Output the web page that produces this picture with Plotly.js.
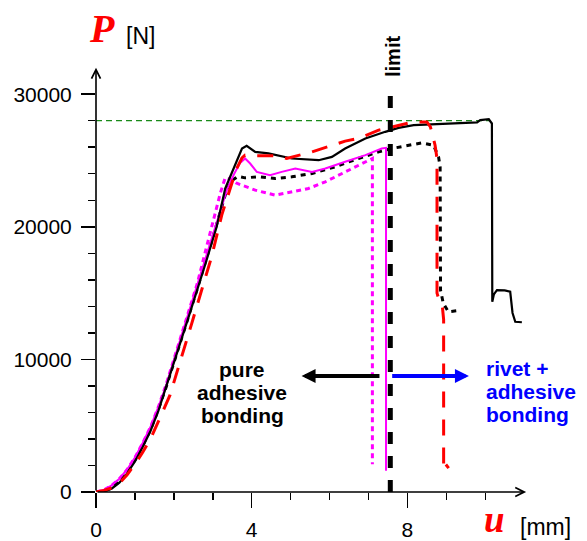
<!DOCTYPE html>
<html>
<head>
<meta charset="utf-8">
<script src="https://cdn.plot.ly/plotly-3.0.1.min.js"></script>
<style>html,body{margin:0;padding:0;background:#fff;}#chart{width:587px;height:541px;}</style>
</head>
<body>
<div id="chart"></div>
<script>
// ---- data (u in mm, P in N) ----
const blackSolidU = [0,0.2,0.4,0.6,0.8,1.0,1.2,1.4,1.6,1.8,2.0,2.4,2.8,3.1,3.32,3.57,3.75,3.87,4.0,4.09,4.43,5.03,5.72,6.06,6.4,6.92,7.43,7.77,8.16,9.02,9.79,9.87,10.09,10.17,10.18,10.22,10.3,10.5,10.64,10.7,10.77,10.94];
const blackSolidP = [0,50,250,700,1400,2300,3400,4600,6100,7900,9700,13400,17100,20000,22890,24700,25900,26100,25800,25650,25530,25150,25020,25270,25900,26660,27160,27460,27660,27790,27870,28040,28110,27790,14340,14900,15220,15200,15100,13500,12840,12800];

const redDashU = [0,0.2,0.4,0.6,0.8,1.0,1.2,1.4,1.6,1.9,2.46,2.72,2.97,3.23,3.44,3.6,3.75,3.83,4.0,4.6,4.9,5.55,6.4,6.74,7.26,7.64,8.16,8.5,8.59,8.71,8.76,8.76,8.82,8.9,8.93,8.93,8.98,9.06];
const redDashP = [0,120,300,650,1300,2100,3000,4000,5300,7300,12720,15230,17740,20880,22760,24300,25200,25400,25350,25350,25150,25650,26460,26660,27290,27540,27910,27910,27540,26150,25150,15000,14400,13900,13000,1700,2100,1800];

const blackDotU = [0,0.2,0.4,0.6,0.8,1.0,1.2,1.4,1.6,1.8,2.2,2.6,3.0,3.2,3.35,3.49,3.65,3.83,4.17,4.6,5.03,5.55,6.14,6.74,7.26,7.6,8.07,8.37,8.67,8.8,8.84,8.85,8.92,9.05,9.36];
const blackDotP = [0,60,300,800,1500,2400,3500,4700,6200,7900,11600,15300,19200,21200,22700,23500,23800,23690,23770,23640,23770,24020,24520,25150,25650,25900,26150,26330,26150,25270,24500,15225,14245,13590,13700];

const magSolidU = [0,0.2,0.4,0.6,0.8,1.0,1.2,1.4,1.6,1.8,2.24,2.8,3.1,3.36,3.55,3.7,3.83,3.96,4.13,4.47,4.77,5.12,5.55,5.89,6.4,6.92,7.34,7.45,7.45];
const magSolidP = [0,150,500,1000,1700,2600,3700,4900,6400,8000,12210,17400,20200,22760,24000,24800,25150,24770,24140,23890,24140,24400,24140,24400,24900,25400,25900,25950,1600];

const magDotU = [0,0.2,0.4,0.6,0.8,1.0,1.2,1.4,1.6,1.8,2.2,2.6,2.85,3.06,3.2,3.32,3.45,3.6,3.74,4.09,4.6,5.03,5.46,5.89,6.32,6.74,7.0,7.1,7.1];
const magDotP = [0,150,500,1000,1700,2600,3700,4900,6400,8100,11900,15700,18600,21030,22600,23700,23600,23300,23140,22760,22390,22640,22890,23390,24020,24650,25020,25150,2100];

const limitU = [7.56, 7.56];
const limitP = [0, 30700];
const maxLineU = [0, 10.1];
const maxLineP = [28000, 28000];

const xTickVals = [0, 4, 8];
const xTickText = ['0', '4', '8'];
const xMinorVals = [1, 2, 3, 5, 6, 7, 9, 10];
const yTickVals = [0, 10000, 20000, 30000];
const yTickText = ['0', '10000', '20000', '30000'];
const yMinorVals = [2000, 4000, 6000, 8000, 12000, 14000, 16000, 18000, 22000, 24000, 26000, 28000];

const arrowLeftU = [7.32, 5.28];
const arrowRightU = [7.57, 9.58];
const arrowP = 8744;

// ---- traces ----
function line(u, p, color, width, dash) {
  return {x: u, y: p, type: 'scatter', mode: 'lines', hoverinfo: 'skip',
          line: {color: color, width: width, dash: dash, shape: 'linear'}};
}
const traces = [
  line(maxLineU, maxLineP, '#1a8a1a', 1.2, '6px,4px'),
  line(magDotU, magDotP, '#ff00ff', 3, '5px,4px'),
  line(blackDotU, blackDotP, '#000000', 3, '5px,5px'),
  line(magSolidU, magSolidP, '#ff00ff', 2, 'solid'),
  line(blackSolidU, blackSolidP, '#000000', 2.2, 'solid'),
  line(redDashU, redDashP, '#ff0000', 3, '16px,12px'),
  line(limitU, limitP, '#000000', 5, '12px,12px')
];

const W = 587, H = 541, L = 96, R = 55, T = 65, B = 49;
const pw = W - L - R, ph = H - T - B;
function px(x) { return (x - L) / pw; }
function py(y) { return (H - B - y) / ph; }

const ann = [];
// axis arrows
ann.push({x: 11.05, y: 0, ax: 0, ay: 0, xref: 'x', yref: 'y', axref: 'x', ayref: 'y',
          text: '', showarrow: true, arrowhead: 5, arrowsize: 1.1, arrowwidth: 1.6, arrowcolor: '#000', standoff: 0});
ann.push({x: 0, y: 32000, ax: 0, ay: 0, xref: 'x', yref: 'y', axref: 'x', ayref: 'y',
          text: '', showarrow: true, arrowhead: 5, arrowsize: 1.1, arrowwidth: 1.6, arrowcolor: '#000', standoff: 0});
// region arrows
ann.push({x: arrowLeftU[1], y: arrowP, ax: arrowLeftU[0], ay: arrowP, xref: 'x', yref: 'y', axref: 'x', ayref: 'y',
          text: '', showarrow: true, arrowhead: 2, arrowsize: 0.7, arrowwidth: 4, arrowcolor: '#000'});
ann.push({x: arrowRightU[1], y: arrowP, ax: arrowRightU[0], ay: arrowP, xref: 'x', yref: 'y', axref: 'x', ayref: 'y',
          text: '', showarrow: true, arrowhead: 2, arrowsize: 0.7, arrowwidth: 4, arrowcolor: '#0000ff'});
// texts
const bold = {family: 'Liberation Sans, Arial, sans-serif', size: 21, color: '#000'};
const blue = {family: 'Liberation Sans, Arial, sans-serif', size: 21, color: '#0000ff'};
const leftLines = ['pure', 'adhesive', 'bonding'];
const rightLines = ['rivet +', 'adhesive', 'bonding'];
const lineY = [369, 392, 415];
leftLines.forEach((t, i) => ann.push({xref: 'paper', yref: 'paper', x: px(242), y: py(lineY[i]), text: '<b>' + t + '</b>',
  showarrow: false, xanchor: 'center', yanchor: 'middle', font: bold}));
rightLines.forEach((t, i) => ann.push({xref: 'paper', yref: 'paper', x: px(484), y: py(lineY[i] - 1), text: '<b>' + t + '</b>',
  showarrow: false, xanchor: 'left', yanchor: 'middle', font: blue}));
ann.push({xref: 'paper', yref: 'paper', x: px(393), y: py(57), text: '<b>limit</b>', textangle: -90,
  showarrow: false, xanchor: 'center', yanchor: 'middle', font: {family: 'Liberation Sans, Arial, sans-serif', size: 20, color: '#000'}});
// axis titles
ann.push({xref: 'paper', yref: 'paper', x: px(102), y: py(29), text: '<b><i>P</i></b>', showarrow: false,
  xanchor: 'center', yanchor: 'middle', font: {family: 'Liberation Serif, Times New Roman, serif', size: 40, color: '#ff0000'}});
ann.push({xref: 'paper', yref: 'paper', x: px(140), y: py(36), text: '[N]', showarrow: false,
  xanchor: 'center', yanchor: 'middle', font: {family: 'Liberation Sans, Arial, sans-serif', size: 23, color: '#000'}});
ann.push({xref: 'paper', yref: 'paper', x: px(494), y: py(541), text: '<b><i>u</i></b>', showarrow: false,
  xanchor: 'center', yanchor: 'bottom', borderpad: 0, font: {family: 'Liberation Serif, Times New Roman, serif', size: 37, color: '#ff0000'}});
ann.push({xref: 'paper', yref: 'paper', x: px(545), y: py(541), text: '[mm]', showarrow: false,
  xanchor: 'center', yanchor: 'bottom', borderpad: 0, font: {family: 'Liberation Sans, Arial, sans-serif', size: 23, color: '#000'}});

const layout = {
  width: W, height: H,
  margin: {l: L, r: R, t: T, b: B, pad: 0},
  paper_bgcolor: '#fff', plot_bgcolor: '#fff',
  showlegend: false,
  font: {family: 'Liberation Sans, Arial, sans-serif', size: 21, color: '#000'},
  xaxis: {range: [0, 11.2], showgrid: false, zeroline: false, showline: false,
          tickmode: 'array', tickvals: xTickVals, ticktext: xTickText,
          ticks: 'outside', ticklen: 15, tickwidth: 1.5, tickcolor: '#000',
          ticklabelstandoff: 4,
          minor: {tickmode: 'array', tickvals: xMinorVals, ticks: 'outside', ticklen: 7, tickwidth: 1.5, tickcolor: '#000', showgrid: false}},
  yaxis: {range: [0, 32200], showgrid: false, zeroline: false, showline: false,
          tickmode: 'array', tickvals: yTickVals, ticktext: yTickText,
          ticks: 'outside', ticklen: 14, tickwidth: 1.5, tickcolor: '#000',
          ticklabelstandoff: 5,
          minor: {tickmode: 'array', tickvals: yMinorVals, ticks: 'outside', ticklen: 7, tickwidth: 1.5, tickcolor: '#000', showgrid: false}},
  annotations: ann
};

Plotly.newPlot('chart', traces, layout, {staticPlot: true, displayModeBar: false});
</script>
</body>
</html>
